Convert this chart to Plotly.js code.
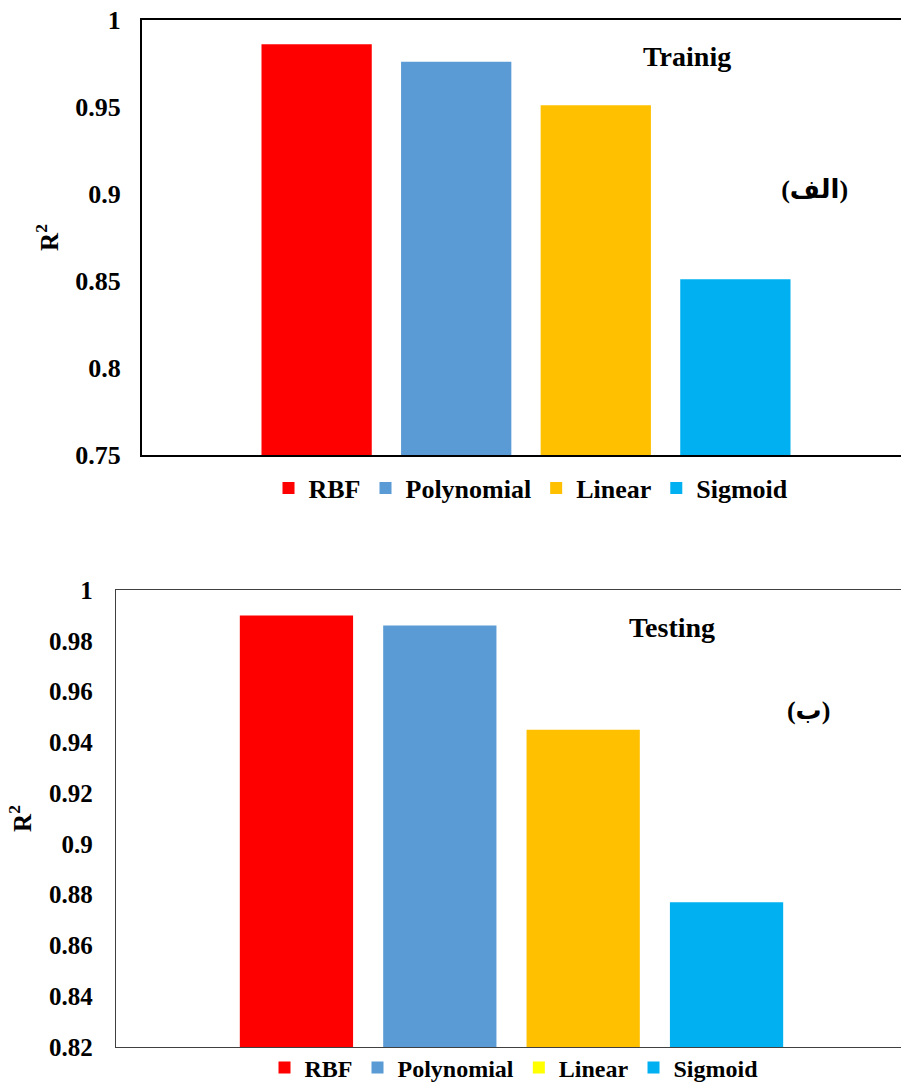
<!DOCTYPE html>
<html>
<head>
<meta charset="utf-8">
<script src="https://cdn.plot.ly/plotly-3.0.1.min.js"></script>
<style>
html,body{margin:0;padding:0;background:#fff;overflow:hidden;}
#top,#bottom{width:901px;}
.js-plotly-plot svg text{font-family:"Liberation Serif","Times New Roman","DejaVu Sans",serif !important;font-weight:bold !important;}
</style>
</head>
<body>
<div id="top"></div>
<div id="bottom"></div>
<script>
// ---- data ----
const methods = ['RBF', 'Polynomial', 'Linear', 'Sigmoid'];
const barColors = ['#FF0000', '#5B9BD5', '#FFC000', '#00B0F0'];
const trainR2 = [0.986, 0.976, 0.951, 0.851];
const testR2 = [0.990, 0.986, 0.945, 0.877];
const trainTicks = [0.75, 0.8, 0.85, 0.9, 0.95, 1];
const trainTickText = ['0.75', '0.8', '0.85', '0.9', '0.95', '1'];
const testTicks = [0.82, 0.84, 0.86, 0.88, 0.9, 0.92, 0.94, 0.96, 0.98, 1];
const testTickText = ['0.82', '0.84', '0.86', '0.88', '0.9', '0.92', '0.94', '0.96', '0.98', '1'];
const yTitle = 'R<sup>2</sup>';
const trainLabel = 'Trainig';
const testLabel = 'Testing';
const trainTag = '(الف)';
const testTag = '(ب)';
const testLegendLinearColor = '#FFFF00';

const FONT = 'Liberation Serif';

function makeTraces(values, legendOverride) {
  const traces = [];
  methods.forEach((m, i) => {
    const override = legendOverride && legendOverride[m];
    traces.push({
      type: 'bar', x: [''], y: [values[i]], name: m,
      marker: {color: barColors[i]}, offsetgroup: m,
      showlegend: !override, legendrank: i + 1,
      hoverinfo: 'name+y'
    });
    if (override) {
      traces.push({
        type: 'bar', x: [''], y: [null], name: m, offsetgroup: m,
        marker: {color: override}, showlegend: true, legendrank: i + 1,
        hoverinfo: 'skip'
      });
    }
  });
  return traces;
}

function build(div, cfg) {
  const plotW = cfg.fullW; // intended full plot width (extends past page edge)
  const visibleW = 901 - cfg.l;
  const xmax = -0.5 + visibleW / plotW;
  const plotH = cfg.H - cfg.t - cfg.b;
  const px2x = px => (px - cfg.l) / visibleW;
  const px2y = py => 1 - (py - cfg.t) / plotH;
  const f = (size) => ({family: FONT, size: size, color: '#000', weight: 'bold'});
  const layout = {
    width: 901, height: cfg.H,
    margin: {l: cfg.l, r: 0, t: cfg.t, b: cfg.b, pad: 0},
    paper_bgcolor: '#fff', plot_bgcolor: '#fff',
    font: f(20),
    barmode: 'group', bargap: cfg.bargap, bargroupgap: cfg.bargroupgap,
    xaxis: {
      range: [-0.5, xmax], showticklabels: false, ticks: '', showgrid: false,
      zeroline: false, showline: true, mirror: true,
      linecolor: cfg.lineColor, linewidth: cfg.lineWidth, fixedrange: true
    },
    yaxis: {
      range: cfg.yrange, tickvals: cfg.tickvals, ticktext: cfg.ticktext,
      ticks: '', showgrid: false, zeroline: false, showline: true, mirror: false,
      linecolor: cfg.lineColor, linewidth: cfg.lineWidth,
      tickfont: f(cfg.tickSize),
      ticklabelstandoff: cfg.tickStandoff,
      title: {text: yTitle, font: f(25), standoff: cfg.titleStandoff},
      fixedrange: true
    },
    legend: {
      orientation: 'h', x: px2x(cfg.legendX), xanchor: 'center',
      y: px2y(cfg.legendY), yanchor: 'middle',
      font: f(cfg.legendSize),
      traceorder: 'normal', bgcolor: 'rgba(0,0,0,0)'
    },
    annotations: [
      {text: cfg.label, xref: 'paper', yref: 'paper', x: px2x(cfg.labelX), y: px2y(cfg.labelY),
       xanchor: 'center', yanchor: 'middle', showarrow: false, font: f(cfg.labelSize)},
      {text: cfg.tag, xref: 'paper', yref: 'paper', x: px2x(cfg.tagX), y: px2y(cfg.tagY),
       xanchor: 'center', yanchor: 'middle', showarrow: false, font: f(cfg.tagSize)}
    ]
  };
  Plotly.newPlot(div, cfg.traces, layout, {staticPlot: true, displayModeBar: false});
}

build('top', {
  H: 520, l: 142, t: 20, b: 65, fullW: 768,
  bargap: 0.273, bargroupgap: 0.21,
  lineColor: '#000', lineWidth: 2,
  yrange: [0.75, 1], tickvals: trainTicks, ticktext: trainTickText,
  tickSize: 26, tickStandoff: 14, titleStandoff: 10,
  legendX: 531, legendY: 488, legendSize: 26,
  label: trainLabel, labelX: 687, labelY: 57, labelSize: 28,
  tag: trainTag, tagX: 814, tagY: 190, tagSize: 26,
  traces: makeTraces(trainR2, null)
});

build('bottom', {
  H: 600, l: 116, t: 70, b: 73, fullW: 791,
  bargap: 0.275, bargroupgap: 0.21,
  lineColor: '#404040', lineWidth: 1.3,
  yrange: [0.82, 1], tickvals: testTicks, ticktext: testTickText,
  tickSize: 25, tickStandoff: 17, titleStandoff: 10,
  legendX: 514, legendY: 1068 - 520, legendSize: 24,
  label: testLabel, labelX: 672, labelY: 628 - 520, labelSize: 28,
  tag: testTag, tagX: 808, tagY: 710 - 520, tagSize: 26,
  traces: makeTraces(testR2, {Linear: testLegendLinearColor})
});
</script>
</body>
</html>
